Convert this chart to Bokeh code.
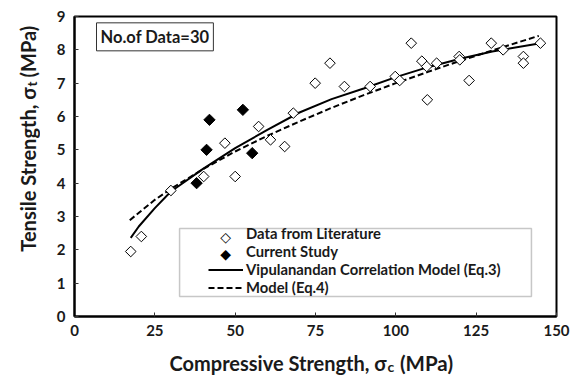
import numpy as np
from bokeh.plotting import figure
from bokeh.layouts import row, column
from bokeh.models import Range1d, Label, Legend, LegendItem, BoxAnnotation, FixedTicker
from bokeh.embed import file_html
from bokeh.resources import INLINE

# ---- data ----
lit_x = [17.5, 20.8, 30, 40.2, 46.8, 50, 57.3, 61, 65.4, 68.1, 74.9, 79.5, 84, 92,
         99.8, 101.2, 104.8, 108.1, 109.6, 109.8, 112.7, 119.7, 119.9, 122.8, 129.7,
         133.4, 139.7, 139.7, 145]
lit_y = [1.95, 2.4, 3.78, 4.2, 5.2, 4.2, 5.7, 5.3, 5.1, 6.1, 7.0, 7.6, 6.9, 6.9,
         7.2, 7.08, 8.2, 7.66, 7.5, 6.5, 7.6, 7.8, 7.7, 7.08, 8.2,
         8.0, 7.8, 7.6, 8.2]
cur_x = [38.0, 41.1, 42.0, 52.4, 55.3]
cur_y = [4.0, 5.0, 5.9, 6.2, 4.9]

eq3_x = [17.5, 20, 25, 30, 40, 50, 60, 70, 80, 90, 100, 110, 120, 130, 145]
eq3_y = [2.36, 2.7, 3.25, 3.75, 4.43, 5.05, 5.6, 6.12, 6.52, 6.84, 7.18, 7.48, 7.73, 7.95, 8.2]
eq4_x = [17.2, 25, 30, 40, 50, 60, 70, 80, 90, 100, 110, 120, 130, 144.5]
eq4_y = [2.89, 3.5, 3.83, 4.42, 4.95, 5.42, 5.85, 6.26, 6.64, 7.0, 7.34, 7.67, 7.98, 8.42]

x_ticks = [0, 25, 50, 75, 100, 125, 150]
y_ticks = [0, 1, 2, 3, 4, 5, 6, 7, 8, 9]

legend_labels = ["Data from Literature", "Current Study",
                 "Vipulanandan Correlation Model (Eq.3)", "Model (Eq.4)"]

FONT = "Lato"
INK = "#1a1a1a"

# ---------------- main plot ----------------
p = figure(width=542, height=345, x_range=Range1d(0, 150), y_range=Range1d(0, 9),
           output_backend="svg", toolbar_location=None,
           min_border_left=34, min_border_right=26, min_border_top=16, min_border_bottom=29)
p.background_fill_color = "white"
p.border_fill_color = "white"
p.outline_line_color = "black"
p.outline_line_width = 2
p.xgrid.visible = False
p.ygrid.visible = False

for ax, ticks in ((p.xaxis, x_ticks), (p.yaxis, y_ticks)):
    ax.ticker = FixedTicker(ticks=ticks)
    ax.axis_line_color = "black"
    ax.axis_line_width = 2
    ax.major_tick_in = 4
    ax.major_tick_out = 0
    ax.major_tick_line_color = "#333333"
    ax.minor_tick_line_color = None
    ax.major_label_text_font = FONT
    ax.major_label_text_font_style = "bold"
    ax.major_label_text_font_size = "15px"
    ax.major_label_text_color = INK
p.xaxis.major_label_standoff = 8
p.yaxis.major_label_standoff = 9

r_eq3 = p.line(eq3_x, eq3_y, line_color="black", line_width=2)
r_eq4 = p.line(eq4_x, eq4_y, line_color="black", line_width=2, line_dash="6 3")
r_lit = p.scatter(lit_x, lit_y, marker="square", angle=np.pi / 4, size=7.5,
                  fill_color="white", line_color="black", line_width=1)
r_cur = p.scatter(cur_x, cur_y, marker="square", angle=np.pi / 4, size=8,
                  fill_color="black", line_color="black", line_width=1)
blank = p.line([], [], line_alpha=0)

# legend frame
p.add_layout(BoxAnnotation(left=32.7, right=142.2, top=2.64, bottom=0.6,
                           fill_color="white", fill_alpha=1.0,
                           line_color="#444444", line_width=1.5, level="annotation"))

legend = Legend(items=[
    LegendItem(label=legend_labels[0], renderers=[blank]),
    LegendItem(label=legend_labels[1], renderers=[blank]),
    LegendItem(label=legend_labels[2], renderers=[r_eq3]),
    LegendItem(label=legend_labels[3], renderers=[r_eq4]),
], location=(134, 20))
legend.padding = 0
legend.margin = 0
legend.spacing = 0
legend.border_line_alpha = 0
legend.background_fill_alpha = 0
legend.glyph_width = 35
legend.glyph_height = 17
legend.label_height = 17
legend.label_standoff = 3
legend.label_text_font = FONT
legend.label_text_font_style = "bold"
legend.label_text_font_size = "14.8px"
legend.label_text_color = INK
legend.label_text_baseline = "middle"
p.add_layout(legend)

# diamond symbols of the legend (drawn as text glyphs)
p.add_layout(Label(x=47.0, y=2.38, text="◇", text_font="DejaVu Sans", text_font_size="14px",
                   text_color="black", text_align="center", text_baseline="middle"))
p.add_layout(Label(x=47.0, y=1.88, text="◆", text_font="DejaVu Sans", text_font_size="14px",
                   text_color="black", text_align="center", text_baseline="middle"))

# "No. of data" box
p.add_layout(Label(x=6.85, y=8.81, text="No.of Data=30", text_font=FONT,
                   text_font_style="bold", text_font_size="16.5px", text_color=INK,
                   text_baseline="top", text_align="left",
                   background_fill_color="white", border_line_color="#333333",
                   border_line_width=1, padding=4))


def strip(w, h):
    f = figure(width=w, height=h, x_range=Range1d(0, w), y_range=Range1d(0, h),
               output_backend="svg", toolbar_location=None, min_border=0,
               x_axis_location=None, y_axis_location=None, outline_line_color=None)
    f.background_fill_color = "white"
    f.border_fill_color = "white"
    f.grid.grid_line_color = None
    f.grid.visible = False
    return f


# ---------------- x-axis title strip ----------------
xlab = strip(542, 32)
xlab.add_layout(Label(x=351, y=15, text="Compressive Strength, σ", text_font=FONT,
                      text_font_style="bold", text_font_size="20px", text_color=INK,
                      text_align="right", text_baseline="alphabetic"))
xlab.add_layout(Label(x=352, y=11, text="c", text_font=FONT,
                      text_font_style="bold", text_font_size="14px", text_color=INK,
                      text_align="left", text_baseline="alphabetic"))
xlab.add_layout(Label(x=366, y=15, text="(MPa)", text_font=FONT,
                      text_font_style="bold", text_font_size="20.5px", text_color=INK,
                      text_align="left", text_baseline="alphabetic"))

# ---------------- y-axis title strip ----------------
ylab = strip(40, 377)
ylab.add_layout(Label(x=27, y=290, text="Tensile Strength, σ", text_font=FONT,
                      text_font_style="bold", text_font_size="20px", text_color=INK,
                      angle=np.pi / 2, text_align="right", text_baseline="alphabetic"))
ylab.add_layout(Label(x=31, y=291, text="t", text_font=FONT,
                      text_font_style="bold", text_font_size="13.5px", text_color=INK,
                      angle=np.pi / 2, text_align="left", text_baseline="alphabetic"))
ylab.add_layout(Label(x=27, y=300, text="(MPa)", text_font=FONT,
                      text_font_style="bold", text_font_size="20px", text_color=INK,
                      angle=np.pi / 2, text_align="left", text_baseline="alphabetic"))

layout = row(ylab, column(p, xlab, spacing=0), spacing=0)
open("out.html", "w").write(file_html(layout, INLINE))
